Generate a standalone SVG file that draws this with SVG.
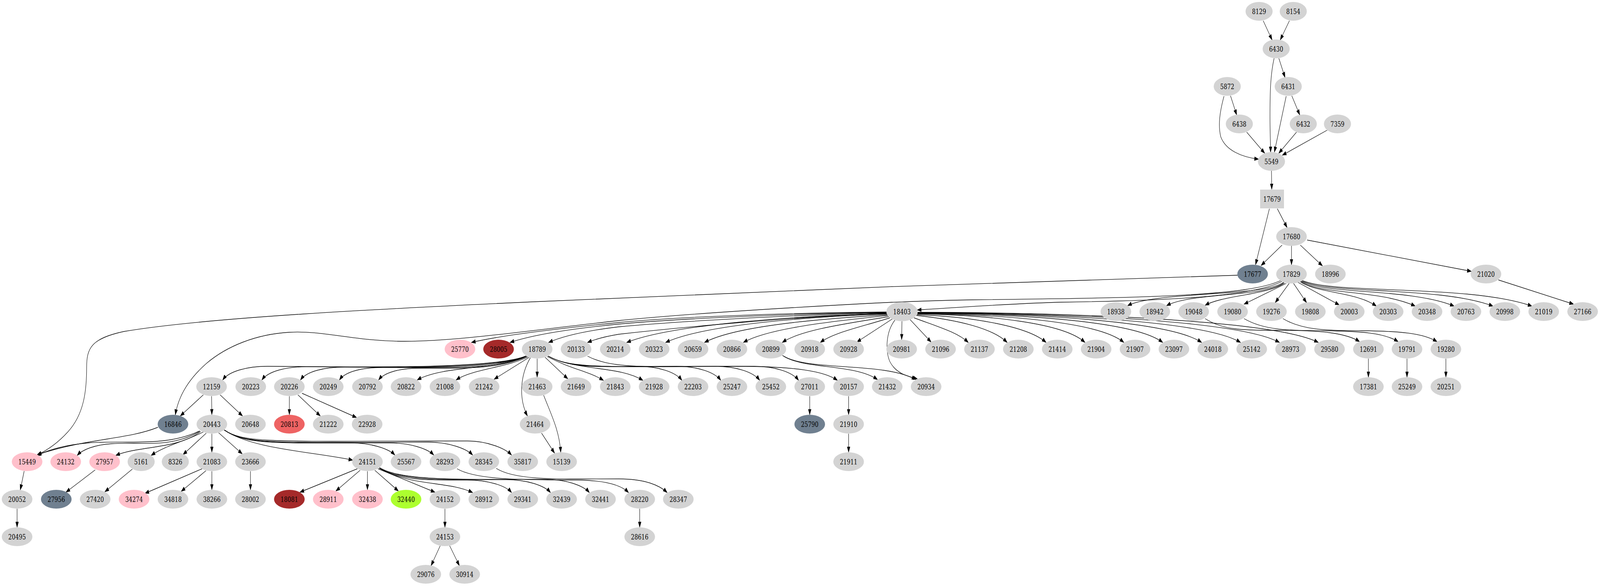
<svg xmlns="http://www.w3.org/2000/svg" width="5430" height="1499" viewBox="0 0 5430 1499" preserveAspectRatio="none" style="max-width:100vw;max-height:100vh">
<style>
.node ellipse,.node rect{fill:#d3d3d3;stroke:none}
.node text{font-family:"DejaVu Serif","Liberation Serif",serif;font-size:18.67px;text-anchor:middle;fill:#000}
.slate ellipse{fill:#708090}
.pink ellipse{fill:#ffc0cb}
.brown ellipse{fill:#a52a2a}
.red ellipse{fill:#ee6363}
.green ellipse{fill:#adff2f}
#edges path{fill:none;stroke:#000;stroke-width:1.33;marker-end:url(#arr)}
</style>
<defs>
<marker id="arr" markerUnits="userSpaceOnUse" markerWidth="14" markerHeight="10" refX="13.3" refY="4.7" orient="auto" overflow="visible">
<path d="M0,0 L13.3,4.7 L0,9.4 z" fill="#000" stroke="#000" stroke-width="1"/>
</marker>
</defs>
<rect width="5430" height="1499" fill="#fff"/>
<g id="edges">
<path d="M4287,53 L4317,102"/>
<path d="M4376,53 L4345,102"/>
<path d="M4340,149 L4361,198"/>
<path d="M4324,149 C4312,190 4310,230 4310,300 C4310,340 4312,365 4312,389"/>
<path d="M4176,245 L4197,294"/>
<path d="M4154,246 C4140,285 4133,320 4143,350 C4160,385 4215,402 4271,407"/>
<path d="M4365,246 L4325,389"/>
<path d="M4384,245 L4411,294"/>
<path d="M4231,338 L4292,392"/>
<path d="M4400,338 L4340,392"/>
<path d="M4504,333 L4352,397"/>
<path d="M4315,437 L4316,484"/>
<path d="M4308,534 L4261,677"/>
<path d="M4335,534 L4368,582"/>
<path d="M4351,627 L4280,679"/>
<path d="M4383,629 L4383,677"/>
<path d="M4413,627 L4488,680"/>
<path d="M4436,614 L4993,694"/>
<path d="M5085,716 L5340,778"/>
<path d="M4356,722 C4290,760 3920,745 3827,782"/>
<path d="M4357,723 C4300,760 4040,748 3959,782"/>
<path d="M4360,724 C4300,755 4150,755 4090,781"/>
<path d="M4365,725 L4222,778"/>
<path d="M4375,725 L4328,774"/>
<path d="M4390,725 L4434,774"/>
<path d="M4402,721 L4545,780"/>
<path d="M4408,718 C4460,750 4600,745 4671,783"/>
<path d="M4410,717 C4470,755 4680,740 4803,783"/>
<path d="M4410,716 C4480,755 4780,735 4935,783"/>
<path d="M4411,715 C4490,755 4880,730 5067,783"/>
<path d="M4411,714 C4500,755 4980,725 5199,783"/>
<path d="M4352,719 C4250,762 3900,770 3600,773 C3450,776 3250,786 3113,793"/>
<path d="M4348,717 C4240,757 3900,762 3300,767 C3150,769 3050,772 2950,776 C2600,790 2300,805 2100,820 C1800,845 1550,873 1374,873 C1200,873 1100,845 981,850 C870,855 770,885 700,930 C640,970 605,1015 595,1061"/>
<path d="M4200,704 C3500,720 2500,745 1810,772 C1300,790 700,812 420,848 C310,866 294,890 294,940 C294,1000 285,1060 230,1105 C200,1130 165,1150 126,1164"/>
<path d="M3012,798 C2700,800 2300,810 2100,825 C1900,840 1700,858 1600,876"/>
<path d="M3012,799 C2700,802 2300,815 2100,829 C1950,840 1810,856 1731,876"/>
<path d="M3012,800 C2700,805 2300,822 2100,836 C2000,845 1915,858 1862,876"/>
<path d="M3012,801 C2700,810 2300,838 2100,855 C2060,860 2025,866 1994,876"/>
<path d="M3012,802 C2700,808 2280,830 2127,876"/>
<path d="M3012,803 C2750,810 2390,830 2259,876"/>
<path d="M3013,805 C2800,815 2500,832 2391,876"/>
<path d="M3014,807 C2850,820 2610,838 2523,876"/>
<path d="M3016,810 C2900,825 2720,842 2655,876"/>
<path d="M3020,813 C2930,835 2830,850 2784,876"/>
<path d="M3028,816 L2908,875"/>
<path d="M3061,821.5 L3060,868.5"/>
<path d="M3088,817 L3160,875"/>
<path d="M3102,813 C3180,835 3250,850 3286,876"/>
<path d="M3110,807 C3250,818 3370,840 3418,876"/>
<path d="M3112,805 C3300,810 3490,835 3550,876"/>
<path d="M3113,803 C3350,806 3610,825 3682,876"/>
<path d="M3114,802 C3400,805 3730,822 3814,876"/>
<path d="M3114,801 C3450,803 3850,820 3946,876"/>
<path d="M3114,800 C3500,802 3970,820 4078,876"/>
<path d="M3114,800 C3550,801 4090,820 4210,876"/>
<path d="M3114,799 C3600,800 4210,820 4342,876"/>
<path d="M3114,799 C3650,799 4330,820 4474,876"/>
<path d="M3037,819 C3005,850 3005,900 3020,925 C3040,955 3080,963 3113,969"/>
<path d="M2658,910 C2740,950 3000,925 3108,971"/>
<path d="M2655,909 C2720,945 2900,930 2978,971"/>
<path d="M1784,911 C1664,948 1108,937 908,937 C838,937 776,950 756,972"/>
<path d="M1784,911 C1670,948 1240,938 1040,938 C970,938 909,950 889,972"/>
<path d="M1785,911 C1675,948 1370,939 1170,939 C1100,939 1040,950 1020,972"/>
<path d="M1786,911 C1680,948 1500,940 1300,940 C1230,940 1172,950 1152,972"/>
<path d="M1787,911 C1700,946 1560,942 1420,942 C1360,942 1305,952 1285,972"/>
<path d="M1789,912 C1700,945 1500,935 1416,972"/>
<path d="M1792,913 C1720,940 1600,945 1548,972"/>
<path d="M1796,914 L1677,970"/>
<path d="M1823,917.5 L1823,964.5"/>
<path d="M1800,915 C1765,960 1760,1020 1790,1064"/>
<path d="M1850,914 L1927,969"/>
<path d="M1857,912 C1940,945 2000,950 2048,973"/>
<path d="M1860,911 C1960,950 2100,935 2182,973"/>
<path d="M1861,911 C1940,945 2050,937 2164,937 C2234,937 2294,952 2314,973"/>
<path d="M1861,911 C1940,945 2050,937 2296,937 C2366,937 2426,952 2446,973"/>
<path d="M1861,911 C1940,945 2050,937 2428,937 C2498,937 2558,952 2578,973"/>
<path d="M1861,911 C1940,945 2050,937 2560,937 C2630,937 2690,952 2710,973"/>
<path d="M1994,911 C2080,945 2200,937 2500,937 C2700,937 2800,950 2842,973"/>
<path d="M1845,1011 C1870,1060 1898,1100 1903,1157"/>
<path d="M1838,1108 L1882,1159"/>
<path d="M2748,1013.5 L2748,1060.5"/>
<path d="M2880,1013.5 L2880,1060.5"/>
<path d="M2880,1109.5 L2880,1156.5"/>
<path d="M690,1010 L612,1064"/>
<path d="M718,1013.5 L719,1060.5"/>
<path d="M747,1010 L823,1064"/>
<path d="M982,1013.5 L982,1060.5"/>
<path d="M1011,1010 L1087,1064"/>
<path d="M1025,1006 L1210,1068"/>
<path d="M536,1093 C430,1125 300,1120 127,1163"/>
<path d="M678,1102 C560,1145 420,1125 300,1133 C220,1138 170,1150 124,1165"/>
<path d="M679,1103 C580,1148 470,1130 380,1135 C320,1138 280,1150 262,1165"/>
<path d="M681,1104 C600,1150 470,1140 393,1165"/>
<path d="M690,1105 C640,1125 560,1140 513,1165"/>
<path d="M700,1108 L621,1163"/>
<path d="M719,1109.5 L719,1156.5"/>
<path d="M742,1107 L822,1161"/>
<path d="M760,1100 C860,1150 1060,1155 1197,1177"/>
<path d="M762,1100 C830,1138 950,1133 1190,1133 C1260,1133 1320,1148 1340,1164"/>
<path d="M762,1100 C830,1138 950,1133 1322,1133 C1392,1133 1452,1148 1472,1164"/>
<path d="M762,1100 C830,1138 950,1131 1454,1131 C1524,1131 1584,1148 1604,1164"/>
<path d="M762,1100 C830,1136 950,1128 1586,1128 C1656,1128 1716,1148 1736,1164"/>
<path d="M686,1199 L492,1262"/>
<path d="M699,1204 L615,1257"/>
<path d="M719,1205.5 L719,1252.5"/>
<path d="M850,1205.5 L850,1252.5"/>
<path d="M82,1205 L69,1253"/>
<path d="M58,1301.5 L58,1348.5"/>
<path d="M323,1202 L224,1259"/>
<path d="M449,1200 L356,1258"/>
<path d="M1213,1199 L1018,1259"/>
<path d="M1222,1203 L1140,1256"/>
<path d="M1247,1205.5 L1247,1252.5"/>
<path d="M1272,1203 L1352,1256"/>
<path d="M1283,1199 L1476,1259"/>
<path d="M1287,1198 C1400,1245 1520,1230 1604,1260"/>
<path d="M1288,1197 C1360,1230 1450,1228 1586,1228 C1656,1228 1716,1242 1736,1260"/>
<path d="M1288,1197 C1360,1230 1500,1227 1718,1227 C1788,1227 1848,1242 1868,1260"/>
<path d="M1288,1196 C1360,1230 1550,1226 1850,1226 C1920,1226 1980,1242 2000,1260"/>
<path d="M1551,1199 C1620,1230 1800,1227 1960,1228 C2060,1229 2110,1242 2133,1260"/>
<path d="M1684,1198 C1750,1230 1900,1225 2100,1225 C2190,1225 2240,1242 2264,1260"/>
<path d="M1510,1301.5 L1510,1348.5"/>
<path d="M1494,1396 L1463,1447"/>
<path d="M1526,1396 L1559,1447"/>
<path d="M2171,1301.5 L2171,1348.5"/>
<path d="M4090,815 C4150,845 4220,845 4350,845 C4480,845 4570,852 4614,874"/>
<path d="M4222,815 C4290,845 4370,845 4490,846 C4620,847 4700,852 4745,874"/>
<path d="M4354,815 C4420,845 4500,845 4620,846 C4750,847 4830,852 4877,874"/>
<path d="M4644,917.5 L4644,964.5"/>
<path d="M4775,917.5 L4775,964.5"/>
<path d="M4907,917.5 L4907,964.5"/>
</g>
<g id="n8129" class="node"><ellipse cx="4273" cy="29" rx="46" ry="24"/><text x="4273" y="35.7">8129</text></g>
<g id="n8154" class="node"><ellipse cx="4389" cy="29" rx="46" ry="24"/><text x="4389" y="35.7">8154</text></g>
<g id="n6430" class="node"><ellipse cx="4331" cy="125" rx="46" ry="24"/><text x="4331" y="131.7">6430</text></g>
<g id="n5872" class="node"><ellipse cx="4165" cy="221" rx="46" ry="24"/><text x="4165" y="227.7">5872</text></g>
<g id="n6431" class="node"><ellipse cx="4372" cy="221" rx="46" ry="24"/><text x="4372" y="227.7">6431</text></g>
<g id="n6438" class="node"><ellipse cx="4206" cy="317" rx="46" ry="24"/><text x="4206" y="323.7">6438</text></g>
<g id="n6432" class="node"><ellipse cx="4423" cy="317" rx="46" ry="24"/><text x="4423" y="323.7">6432</text></g>
<g id="n7359" class="node"><ellipse cx="4539" cy="317" rx="46" ry="24"/><text x="4539" y="323.7">7359</text></g>
<g id="n5549" class="node"><ellipse cx="4315" cy="413" rx="46" ry="24"/><text x="4315" y="419.7">5549</text></g>
<g id="n17679" class="node"><rect x="4276.5" y="485" width="81" height="48"/><text x="4317" y="515.7">17679</text></g>
<g id="n17680" class="node"><ellipse cx="4383" cy="605" rx="52" ry="24"/><text x="4383" y="611.7">17680</text></g>
<g id="n17677" class="node slate"><ellipse cx="4251" cy="701" rx="52" ry="24"/><text x="4251" y="707.7">17677</text></g>
<g id="n17829" class="node"><ellipse cx="4383" cy="701" rx="52" ry="24"/><text x="4383" y="707.7">17829</text></g>
<g id="n18996" class="node"><ellipse cx="4515" cy="701" rx="52" ry="24"/><text x="4515" y="707.7">18996</text></g>
<g id="n21020" class="node"><ellipse cx="5043" cy="701" rx="52" ry="24"/><text x="5043" y="707.7">21020</text></g>
<g id="n18403" class="node"><ellipse cx="3061" cy="797" rx="53" ry="24.5"/><text x="3061" y="803.7">18403</text></g>
<g id="n18938" class="node"><ellipse cx="3787" cy="797" rx="52" ry="24"/><text x="3787" y="803.7">18938</text></g>
<g id="n18942" class="node"><ellipse cx="3919" cy="797" rx="52" ry="24"/><text x="3919" y="803.7">18942</text></g>
<g id="n19048" class="node"><ellipse cx="4051" cy="797" rx="52" ry="24"/><text x="4051" y="803.7">19048</text></g>
<g id="n19080" class="node"><ellipse cx="4183" cy="797" rx="52" ry="24"/><text x="4183" y="803.7">19080</text></g>
<g id="n19276" class="node"><ellipse cx="4315" cy="797" rx="52" ry="24"/><text x="4315" y="803.7">19276</text></g>
<g id="n19808" class="node"><ellipse cx="4447" cy="797" rx="52" ry="24"/><text x="4447" y="803.7">19808</text></g>
<g id="n20003" class="node"><ellipse cx="4579" cy="797" rx="52" ry="24"/><text x="4579" y="803.7">20003</text></g>
<g id="n20303" class="node"><ellipse cx="4711" cy="797" rx="52" ry="24"/><text x="4711" y="803.7">20303</text></g>
<g id="n20348" class="node"><ellipse cx="4843" cy="797" rx="52" ry="24"/><text x="4843" y="803.7">20348</text></g>
<g id="n20763" class="node"><ellipse cx="4975" cy="797" rx="52" ry="24"/><text x="4975" y="803.7">20763</text></g>
<g id="n20998" class="node"><ellipse cx="5107" cy="797" rx="52" ry="24"/><text x="5107" y="803.7">20998</text></g>
<g id="n21019" class="node"><ellipse cx="5239" cy="797" rx="52" ry="24"/><text x="5239" y="803.7">21019</text></g>
<g id="n27166" class="node"><ellipse cx="5371" cy="797" rx="52" ry="24"/><text x="5371" y="803.7">27166</text></g>
<g id="n25770" class="node pink"><ellipse cx="1561" cy="893" rx="52" ry="24"/><text x="1561" y="899.7">25770</text></g>
<g id="n28005" class="node brown"><ellipse cx="1692" cy="893" rx="52" ry="24"/><text x="1692" y="899.7">28005</text></g>
<g id="n18789" class="node"><ellipse cx="1823" cy="893" rx="52" ry="24"/><text x="1823" y="899.7">18789</text></g>
<g id="n20133" class="node"><ellipse cx="1955" cy="893" rx="52" ry="24"/><text x="1955" y="899.7">20133</text></g>
<g id="n20214" class="node"><ellipse cx="2088" cy="893" rx="52" ry="24"/><text x="2088" y="899.7">20214</text></g>
<g id="n20323" class="node"><ellipse cx="2220" cy="893" rx="52" ry="24"/><text x="2220" y="899.7">20323</text></g>
<g id="n20659" class="node"><ellipse cx="2352" cy="893" rx="52" ry="24"/><text x="2352" y="899.7">20659</text></g>
<g id="n20866" class="node"><ellipse cx="2484" cy="893" rx="52" ry="24"/><text x="2484" y="899.7">20866</text></g>
<g id="n20899" class="node"><ellipse cx="2616" cy="893" rx="52" ry="24"/><text x="2616" y="899.7">20899</text></g>
<g id="n20918" class="node"><ellipse cx="2748" cy="893" rx="52" ry="24"/><text x="2748" y="899.7">20918</text></g>
<g id="n20928" class="node"><ellipse cx="2880" cy="893" rx="52" ry="24"/><text x="2880" y="899.7">20928</text></g>
<g id="n20981" class="node"><ellipse cx="3060" cy="893" rx="52" ry="24"/><text x="3060" y="899.7">20981</text></g>
<g id="n21096" class="node"><ellipse cx="3192" cy="893" rx="52" ry="24"/><text x="3192" y="899.7">21096</text></g>
<g id="n21137" class="node"><ellipse cx="3324" cy="893" rx="52" ry="24"/><text x="3324" y="899.7">21137</text></g>
<g id="n21208" class="node"><ellipse cx="3456" cy="893" rx="52" ry="24"/><text x="3456" y="899.7">21208</text></g>
<g id="n21414" class="node"><ellipse cx="3588" cy="893" rx="52" ry="24"/><text x="3588" y="899.7">21414</text></g>
<g id="n21904" class="node"><ellipse cx="3720" cy="893" rx="52" ry="24"/><text x="3720" y="899.7">21904</text></g>
<g id="n21907" class="node"><ellipse cx="3852" cy="893" rx="52" ry="24"/><text x="3852" y="899.7">21907</text></g>
<g id="n23097" class="node"><ellipse cx="3984" cy="893" rx="52" ry="24"/><text x="3984" y="899.7">23097</text></g>
<g id="n24018" class="node"><ellipse cx="4116" cy="893" rx="52" ry="24"/><text x="4116" y="899.7">24018</text></g>
<g id="n25142" class="node"><ellipse cx="4248" cy="893" rx="52" ry="24"/><text x="4248" y="899.7">25142</text></g>
<g id="n28973" class="node"><ellipse cx="4380" cy="893" rx="52" ry="24"/><text x="4380" y="899.7">28973</text></g>
<g id="n29580" class="node"><ellipse cx="4512" cy="893" rx="52" ry="24"/><text x="4512" y="899.7">29580</text></g>
<g id="n12691" class="node"><ellipse cx="4644" cy="893" rx="52" ry="24"/><text x="4644" y="899.7">12691</text></g>
<g id="n19791" class="node"><ellipse cx="4775" cy="893" rx="52" ry="24"/><text x="4775" y="899.7">19791</text></g>
<g id="n19280" class="node"><ellipse cx="4907" cy="893" rx="52" ry="24"/><text x="4907" y="899.7">19280</text></g>
<g id="n12159" class="node"><ellipse cx="718" cy="989" rx="52" ry="24"/><text x="718" y="995.7">12159</text></g>
<g id="n20223" class="node"><ellipse cx="851" cy="989" rx="52" ry="24"/><text x="851" y="995.7">20223</text></g>
<g id="n20226" class="node"><ellipse cx="982" cy="989" rx="52" ry="24"/><text x="982" y="995.7">20226</text></g>
<g id="n20249" class="node"><ellipse cx="1114" cy="989" rx="52" ry="24"/><text x="1114" y="995.7">20249</text></g>
<g id="n20792" class="node"><ellipse cx="1247" cy="989" rx="52" ry="24"/><text x="1247" y="995.7">20792</text></g>
<g id="n20822" class="node"><ellipse cx="1378" cy="989" rx="52" ry="24"/><text x="1378" y="995.7">20822</text></g>
<g id="n21008" class="node"><ellipse cx="1510" cy="989" rx="52" ry="24"/><text x="1510" y="995.7">21008</text></g>
<g id="n21242" class="node"><ellipse cx="1643" cy="989" rx="52" ry="24"/><text x="1643" y="995.7">21242</text></g>
<g id="n21463" class="node"><ellipse cx="1823" cy="989" rx="52" ry="24"/><text x="1823" y="995.7">21463</text></g>
<g id="n21649" class="node"><ellipse cx="1955" cy="989" rx="52" ry="24"/><text x="1955" y="995.7">21649</text></g>
<g id="n21843" class="node"><ellipse cx="2088" cy="989" rx="52" ry="24"/><text x="2088" y="995.7">21843</text></g>
<g id="n21928" class="node"><ellipse cx="2220" cy="989" rx="52" ry="24"/><text x="2220" y="995.7">21928</text></g>
<g id="n22203" class="node"><ellipse cx="2352" cy="989" rx="52" ry="24"/><text x="2352" y="995.7">22203</text></g>
<g id="n25247" class="node"><ellipse cx="2484" cy="989" rx="52" ry="24"/><text x="2484" y="995.7">25247</text></g>
<g id="n25452" class="node"><ellipse cx="2616" cy="989" rx="52" ry="24"/><text x="2616" y="995.7">25452</text></g>
<g id="n27011" class="node"><ellipse cx="2748" cy="989" rx="52" ry="24"/><text x="2748" y="995.7">27011</text></g>
<g id="n20157" class="node"><ellipse cx="2880" cy="989" rx="52" ry="24"/><text x="2880" y="995.7">20157</text></g>
<g id="n21432" class="node"><ellipse cx="3011" cy="989" rx="52" ry="24"/><text x="3011" y="995.7">21432</text></g>
<g id="n20934" class="node"><ellipse cx="3143" cy="989" rx="52" ry="24"/><text x="3143" y="995.7">20934</text></g>
<g id="n17381" class="node"><ellipse cx="4644" cy="989" rx="52" ry="24"/><text x="4644" y="995.7">17381</text></g>
<g id="n25249" class="node"><ellipse cx="4775" cy="989" rx="52" ry="24"/><text x="4775" y="995.7">25249</text></g>
<g id="n20251" class="node"><ellipse cx="4907" cy="989" rx="52" ry="24"/><text x="4907" y="995.7">20251</text></g>
<g id="n16846" class="node slate"><ellipse cx="587" cy="1085" rx="52" ry="24"/><text x="587" y="1091.7">16846</text></g>
<g id="n20443" class="node"><ellipse cx="719" cy="1085" rx="52" ry="24"/><text x="719" y="1091.7">20443</text></g>
<g id="n20648" class="node"><ellipse cx="850" cy="1085" rx="52" ry="24"/><text x="850" y="1091.7">20648</text></g>
<g id="n20813" class="node red"><ellipse cx="982" cy="1085" rx="52" ry="24"/><text x="982" y="1091.7">20813</text></g>
<g id="n21222" class="node"><ellipse cx="1114" cy="1085" rx="52" ry="24"/><text x="1114" y="1091.7">21222</text></g>
<g id="n22928" class="node"><ellipse cx="1246" cy="1085" rx="52" ry="24"/><text x="1246" y="1091.7">22928</text></g>
<g id="n21464" class="node"><ellipse cx="1816" cy="1085" rx="52" ry="24"/><text x="1816" y="1091.7">21464</text></g>
<g id="n25790" class="node slate"><ellipse cx="2748" cy="1085" rx="52" ry="24"/><text x="2748" y="1091.7">25790</text></g>
<g id="n21910" class="node"><ellipse cx="2880" cy="1085" rx="52" ry="24"/><text x="2880" y="1091.7">21910</text></g>
<g id="n15449" class="node pink"><ellipse cx="92" cy="1181" rx="52" ry="24"/><text x="92" y="1187.7">15449</text></g>
<g id="n24132" class="node pink"><ellipse cx="223" cy="1181" rx="52" ry="24"/><text x="223" y="1187.7">24132</text></g>
<g id="n27957" class="node pink"><ellipse cx="355" cy="1181" rx="52" ry="24"/><text x="355" y="1187.7">27957</text></g>
<g id="n5161" class="node"><ellipse cx="479" cy="1181" rx="46" ry="24"/><text x="479" y="1187.7">5161</text></g>
<g id="n8326" class="node"><ellipse cx="595" cy="1181" rx="46" ry="24"/><text x="595" y="1187.7">8326</text></g>
<g id="n21083" class="node"><ellipse cx="719" cy="1181" rx="52" ry="24"/><text x="719" y="1187.7">21083</text></g>
<g id="n23666" class="node"><ellipse cx="850" cy="1181" rx="52" ry="24"/><text x="850" y="1187.7">23666</text></g>
<g id="n24151" class="node"><ellipse cx="1247" cy="1181" rx="52" ry="24"/><text x="1247" y="1187.7">24151</text></g>
<g id="n25567" class="node"><ellipse cx="1378" cy="1181" rx="52" ry="24"/><text x="1378" y="1187.7">25567</text></g>
<g id="n28293" class="node"><ellipse cx="1510" cy="1181" rx="52" ry="24"/><text x="1510" y="1187.7">28293</text></g>
<g id="n28345" class="node"><ellipse cx="1642" cy="1181" rx="52" ry="24"/><text x="1642" y="1187.7">28345</text></g>
<g id="n35817" class="node"><ellipse cx="1774" cy="1181" rx="52" ry="24"/><text x="1774" y="1187.7">35817</text></g>
<g id="n15139" class="node"><ellipse cx="1906" cy="1181" rx="52" ry="24"/><text x="1906" y="1187.7">15139</text></g>
<g id="n21911" class="node"><ellipse cx="2880" cy="1181" rx="52" ry="24"/><text x="2880" y="1187.7">21911</text></g>
<g id="n20052" class="node"><ellipse cx="58" cy="1277" rx="52" ry="24"/><text x="58" y="1283.7">20052</text></g>
<g id="n27956" class="node slate"><ellipse cx="191" cy="1277" rx="52" ry="24"/><text x="191" y="1283.7">27956</text></g>
<g id="n27420" class="node"><ellipse cx="323" cy="1277" rx="52" ry="24"/><text x="323" y="1283.7">27420</text></g>
<g id="n34274" class="node pink"><ellipse cx="455" cy="1277" rx="52" ry="24"/><text x="455" y="1283.7">34274</text></g>
<g id="n34818" class="node"><ellipse cx="587" cy="1277" rx="52" ry="24"/><text x="587" y="1283.7">34818</text></g>
<g id="n38266" class="node"><ellipse cx="719" cy="1277" rx="52" ry="24"/><text x="719" y="1283.7">38266</text></g>
<g id="n28002" class="node"><ellipse cx="850" cy="1277" rx="52" ry="24"/><text x="850" y="1283.7">28002</text></g>
<g id="n18081" class="node brown"><ellipse cx="982" cy="1277" rx="52" ry="24"/><text x="982" y="1283.7">18081</text></g>
<g id="n28911" class="node pink"><ellipse cx="1114" cy="1277" rx="52" ry="24"/><text x="1114" y="1283.7">28911</text></g>
<g id="n32438" class="node pink"><ellipse cx="1247" cy="1277" rx="52" ry="24"/><text x="1247" y="1283.7">32438</text></g>
<g id="n32440" class="node green"><ellipse cx="1378" cy="1277" rx="52" ry="24"/><text x="1378" y="1283.7">32440</text></g>
<g id="n24152" class="node"><ellipse cx="1510" cy="1277" rx="52" ry="24"/><text x="1510" y="1283.7">24152</text></g>
<g id="n28912" class="node"><ellipse cx="1642" cy="1277" rx="52" ry="24"/><text x="1642" y="1283.7">28912</text></g>
<g id="n29341" class="node"><ellipse cx="1774" cy="1277" rx="52" ry="24"/><text x="1774" y="1283.7">29341</text></g>
<g id="n32439" class="node"><ellipse cx="1906" cy="1277" rx="52" ry="24"/><text x="1906" y="1283.7">32439</text></g>
<g id="n32441" class="node"><ellipse cx="2038" cy="1277" rx="52" ry="24"/><text x="2038" y="1283.7">32441</text></g>
<g id="n28220" class="node"><ellipse cx="2171" cy="1277" rx="52" ry="24"/><text x="2171" y="1283.7">28220</text></g>
<g id="n28347" class="node"><ellipse cx="2302" cy="1277" rx="52" ry="24"/><text x="2302" y="1283.7">28347</text></g>
<g id="n20495" class="node"><ellipse cx="58" cy="1373" rx="52" ry="24"/><text x="58" y="1379.7">20495</text></g>
<g id="n24153" class="node"><ellipse cx="1510" cy="1373" rx="52" ry="24"/><text x="1510" y="1379.7">24153</text></g>
<g id="n28616" class="node"><ellipse cx="2171" cy="1373" rx="52" ry="24"/><text x="2171" y="1379.7">28616</text></g>
<g id="n29076" class="node"><ellipse cx="1445" cy="1469" rx="52" ry="24"/><text x="1445" y="1475.7">29076</text></g>
<g id="n30914" class="node"><ellipse cx="1577" cy="1469" rx="52" ry="24"/><text x="1577" y="1475.7">30914</text></g>
</svg>
